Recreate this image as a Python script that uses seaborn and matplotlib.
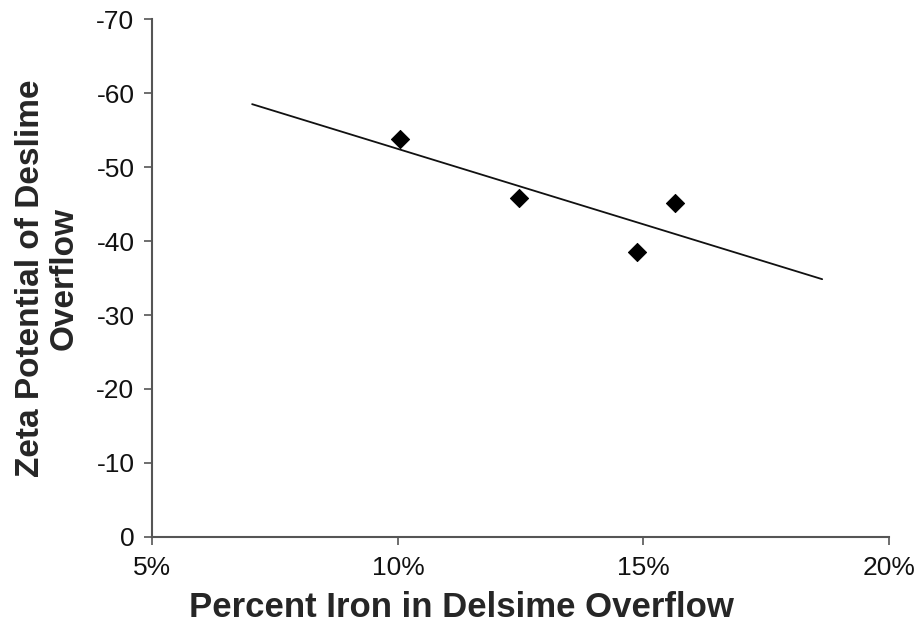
import matplotlib
matplotlib.use('Agg')
import matplotlib.pyplot as plt
import seaborn as sns
import numpy as np
import pandas as pd
from matplotlib.ticker import PercentFormatter

# data
iron_pct = [0.1004, 0.1247, 0.1487, 0.1564]
zeta_mv = [-53.8, -45.85, -38.5, -45.1]
trend_x = [0.0703, 0.1864]

df = pd.DataFrame({'iron': iron_pct, 'zeta': zeta_mv})

# linear trend line fitted to the points
slope, icpt = np.polyfit(iron_pct, zeta_mv, 1)
trend = pd.DataFrame({'iron': trend_x, 'zeta': [slope * v + icpt for v in trend_x]})

sns.set_style('white')
plt.rcParams['font.family'] = ['Liberation Sans', 'DejaVu Sans']
plt.rcParams['axes.unicode_minus'] = False

fig = plt.figure(figsize=(9.19, 6.26), dpi=100)
ax = fig.add_axes([0.1659, 0.1422, 0.8014, 0.8274])

sns.lineplot(data=trend, x='iron', y='zeta', color='#111111', linewidth=1.3, ax=ax)
sns.scatterplot(data=df, x='iron', y='zeta', marker='D', s=85, color='black',
                edgecolor='black', ax=ax, zorder=3)

ax.set_xlim(0.05, 0.20)
ax.set_ylim(0, -70)
ax.set_xticks([0.05, 0.10, 0.15, 0.20])
ax.set_yticks(range(0, -80, -10))
ax.xaxis.set_major_formatter(PercentFormatter(1.0, decimals=0))

for s in ['top', 'right']:
    ax.spines[s].set_visible(False)
for s in ['left', 'bottom']:
    ax.spines[s].set_color('#555555')
    ax.spines[s].set_linewidth(1.5)

ax.tick_params(axis='both', direction='out', length=6, width=1.2, color='#555555',
               labelsize=19, labelcolor='#111111', bottom=True, left=True)
ax.tick_params(axis='y', pad=7)
ax.tick_params(axis='x', pad=8)

ax.set_xlabel('Percent Iron in Delsime Overflow', fontsize=25, fontweight='bold', labelpad=7)
ax.xaxis.set_label_coords(0.42, -0.105)
ax.set_ylabel('Zeta Potential of Deslime\nOverflow', fontsize=24, fontweight='bold',
              labelpad=12, linespacing=1.1)

fig.savefig('out.png', dpi=100)
